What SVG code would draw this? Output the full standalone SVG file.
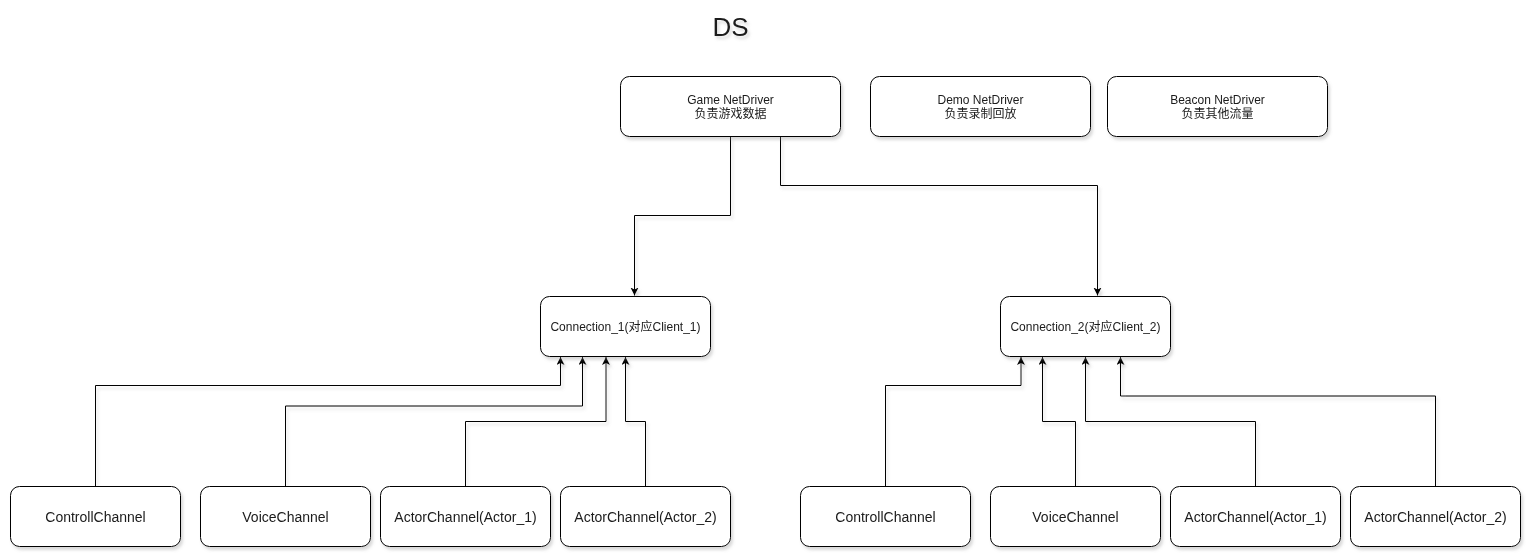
<svg xmlns="http://www.w3.org/2000/svg" width="1532" height="558" viewBox="0 0 1532 558">
  <style>
    .box { fill: #ffffff; stroke: #000000; stroke-width: 1; }
    .t { font-family: "Liberation Sans", "Noto Sans CJK SC", sans-serif; fill: #1a1a1a; text-anchor: middle; }
    .s12 { font-size: 12px; }
    .s13 { font-size: 14px; }
    .edge { fill: none; stroke: #000000; stroke-width: 1; marker-end: url(#arrow); }
  </style>
  <defs>
    <filter id="shadow" x="-10%" y="-10%" width="130%" height="140%">
      <feDropShadow dx="2" dy="3" stdDeviation="1.5" flood-color="#808080" flood-opacity="0.3"/>
    </filter>
    <marker id="arrow" markerWidth="10" markerHeight="10" refX="8" refY="4" orient="auto" markerUnits="userSpaceOnUse">
      <path d="M0,0 L8,4 L0,8 L2,4 Z" fill="#000000"/>
    </marker>
  </defs>
  <rect width="1532" height="558" fill="#ffffff"/>

  <g id="title" filter="url(#shadow)">
    <text class="t" x="730.5" y="36" font-size="26px">DS</text>
  </g>

  <g id="connectors" filter="url(#shadow)">
    <path class="edge" d="M730.5,136.5 V215.5 H634.5 V295.5"/>
    <path class="edge" d="M780.5,136.5 V185.5 H1097.5 V295.5"/>
    <path class="edge" d="M95.5,486 V385.5 H560.5 V357"/>
    <path class="edge" d="M285.5,486 V406 H582.5 V357"/>
    <path class="edge" d="M465.5,486 V421.5 H606 V357"/>
    <path class="edge" d="M645.5,486 V421.5 H625.5 V357"/>
    <path class="edge" d="M885.5,486 V385.5 H1021 V357"/>
    <path class="edge" d="M1075.5,486 V421.5 H1042.5 V357"/>
    <path class="edge" d="M1255.5,486 V421.5 H1085.5 V357"/>
    <path class="edge" d="M1435.5,486 V396 H1120.5 V357"/>
  </g>

  <g id="game-netdriver" filter="url(#shadow)">
    <rect class="box" x="620.5" y="76.5" width="220" height="60" rx="9"/>
    <text class="t s12" x="730.5" y="103.5">Game NetDriver</text>
    <text class="t s12" x="730.5" y="117.5">负责游戏数据</text>
  </g>
  <g id="demo-netdriver" filter="url(#shadow)">
    <rect class="box" x="870.5" y="76.5" width="220" height="60" rx="9"/>
    <text class="t s12" x="980.5" y="103.5">Demo NetDriver</text>
    <text class="t s12" x="980.5" y="117.5">负责录制回放</text>
  </g>
  <g id="beacon-netdriver" filter="url(#shadow)">
    <rect class="box" x="1107.5" y="76.5" width="220" height="60" rx="9"/>
    <text class="t s12" x="1217.5" y="103.5">Beacon NetDriver</text>
    <text class="t s12" x="1217.5" y="117.5">负责其他流量</text>
  </g>

  <g id="connection-1" filter="url(#shadow)">
    <rect class="box" x="540.5" y="296.5" width="170" height="60" rx="9"/>
    <text class="t s12" x="625.5" y="330.5">Connection_1(对应Client_1)</text>
  </g>
  <g id="connection-2" filter="url(#shadow)">
    <rect class="box" x="1000.5" y="296.5" width="170" height="60" rx="9"/>
    <text class="t s12" x="1085.5" y="330.5">Connection_2(对应Client_2)</text>
  </g>

  <g id="c1-controll" filter="url(#shadow)">
    <rect class="box" x="10.5" y="486.5" width="170" height="60" rx="9"/>
    <text class="t s13" x="95.5" y="521.5">ControllChannel</text>
  </g>
  <g id="c1-voice" filter="url(#shadow)">
    <rect class="box" x="200.5" y="486.5" width="170" height="60" rx="9"/>
    <text class="t s13" x="285.5" y="521.5">VoiceChannel</text>
  </g>
  <g id="c1-actor1" filter="url(#shadow)">
    <rect class="box" x="380.5" y="486.5" width="170" height="60" rx="9"/>
    <text class="t s13" x="465.5" y="521.5">ActorChannel(Actor_1)</text>
  </g>
  <g id="c1-actor2" filter="url(#shadow)">
    <rect class="box" x="560.5" y="486.5" width="170" height="60" rx="9"/>
    <text class="t s13" x="645.5" y="521.5">ActorChannel(Actor_2)</text>
  </g>

  <g id="c2-controll" filter="url(#shadow)">
    <rect class="box" x="800.5" y="486.5" width="170" height="60" rx="9"/>
    <text class="t s13" x="885.5" y="521.5">ControllChannel</text>
  </g>
  <g id="c2-voice" filter="url(#shadow)">
    <rect class="box" x="990.5" y="486.5" width="170" height="60" rx="9"/>
    <text class="t s13" x="1075.5" y="521.5">VoiceChannel</text>
  </g>
  <g id="c2-actor1" filter="url(#shadow)">
    <rect class="box" x="1170.5" y="486.5" width="170" height="60" rx="9"/>
    <text class="t s13" x="1255.5" y="521.5">ActorChannel(Actor_1)</text>
  </g>
  <g id="c2-actor2" filter="url(#shadow)">
    <rect class="box" x="1350.5" y="486.5" width="170" height="60" rx="9"/>
    <text class="t s13" x="1435.5" y="521.5">ActorChannel(Actor_2)</text>
  </g>
</svg>
